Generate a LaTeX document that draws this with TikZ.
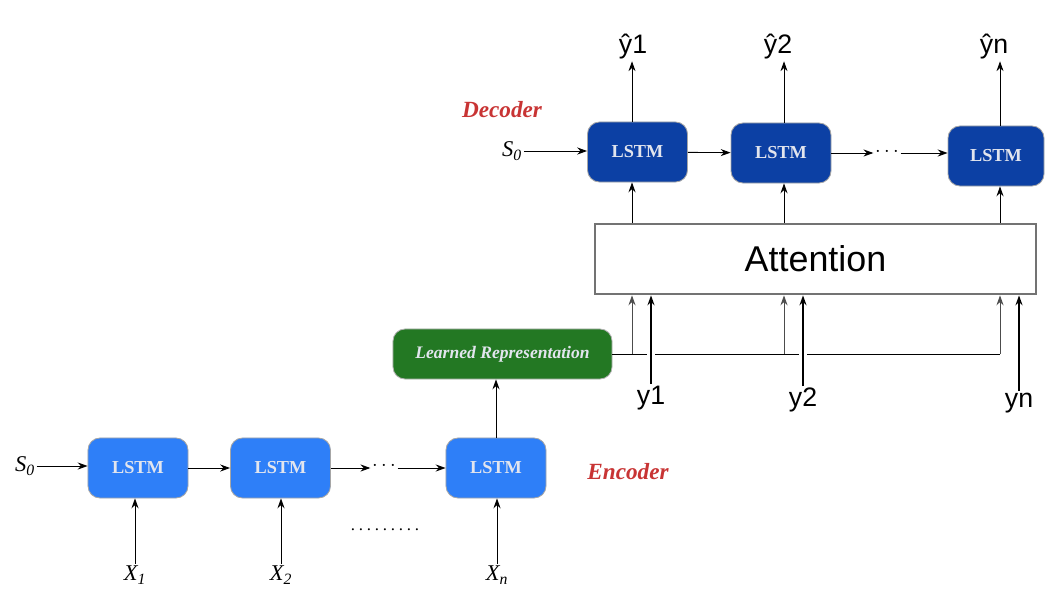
\documentclass[tikz,border=0pt]{standalone}
\usepackage{fontspec}
\setmainfont{Liberation Serif}
\setsansfont{Liberation Sans}
\usetikzlibrary{arrows.meta,positioning}
\definecolor{encblue}{RGB}{46,127,248}
\definecolor{decblue}{RGB}{12,64,164}
\definecolor{lrgreen}{RGB}{35,120,35}
\definecolor{lblred}{RGB}{200,52,52}
\definecolor{boxtxt}{RGB}{226,229,238}
\tikzset{>={Stealth[length=7pt,width=5pt]},
         every path/.style={line width=0.6pt},
         lstm/.style={draw=black!35, rounded corners=0.3cm, minimum width=2.5cm,
                      minimum height=1.5cm, text=boxtxt,
                      font=\fontsize{13}{15}\selectfont\bfseries},
         enc/.style={lstm, fill=encblue},
         dec/.style={lstm, fill=decblue},
         var/.style={inner sep=1pt, font=\fontsize{16}{18}\selectfont\itshape},
         part/.style={text=lblred, font=\fontsize{16.5}{19}\selectfont\bfseries\itshape},
         outlbl/.style={inner sep=1pt, font=\fontsize{19}{22}\selectfont\sffamily},
         skip/.style={inner sep=1pt, font=\fontsize{15}{17}\selectfont},
         thick arrow/.style={->, line width=2pt,
                             preaction={draw=white, line width=6pt, -, shorten >=8pt}}}

\begin{document}
\begin{tikzpicture}[x=0.025cm, y=-0.025cm]
	\useasboundingbox (0,0) rectangle (1056,604);

	% encoder
	\node[enc] (e1) at (138,468) {LSTM};
	\node[enc] (e2) at (280.5,468) {LSTM};
	\node[enc] (e3) at (496,468) {LSTM};
	\node[var] (s0e) at (25,466) {S\textsubscript{0}};
	\node[skip] (dotse) at (384,466) {$\cdots$};
	\node[inner sep=0pt, font=\fontsize{12}{14}\selectfont] (dotsx) at (385,530)
		{\hbox to 1.8cm{\leaders\hbox to 0.2cm{\hss.\hss}\hfill}};
	\node[var] (x1) at (135,575) {X\textsubscript{1}};
	\node[var] (x2) at (281,575) {X\textsubscript{2}};
	\node[var] (xn) at (497,575) {X\textsubscript{n}};
	\node[part] (enclbl) at (628,472) {Encoder};
	\draw[->] (s0e.east) -- (s0e.east -| e1.west);
	\draw[->] (e1) -- (e2);
	\draw[->] (e2.east) -- (dotse.west |- e2.east);
	\draw[->] (dotse.east |- e3.west) -- (e3.west);
	\foreach \v/\b in {x1/e1, x2/e2, xn/e3}
		\draw[->] (\v.north) -- (\v.north |- \b.south);

	% learned representation
	\node[fill=lrgreen, draw=black!30, rounded corners=0.3cm, minimum width=5.475cm,
	      minimum height=1.25cm, text=boxtxt,
	      font=\fontsize{12.5}{14}\selectfont\bfseries\itshape] (lr) at (502.5,354) {Learned Representation};
	\draw[->] (e3.north) -- (e3.north |- lr.south);

	% attention
	\node[draw=black!55, line width=2pt, minimum width=11.025cm, minimum height=1.75cm,
	      font=\fontsize{25.5}{28}\selectfont\sffamily] (att) at (815.5,259) {Attention};
	\coordinate (b1) at (632,354);
	\coordinate (b2) at (784,354);
	\coordinate (b3) at (1000,354);
	\draw (lr.east) -- (b3);
	\foreach \c in {b1, b2, b3}
		\draw[->, draw=black!70] (\c) -- (\c |- att.south);
	\node[outlbl] (y1) at (651,398) {y1};
	\node[outlbl] (y2) at (803,400) {y2};
	\node[outlbl] (yn) at (1019,403) {yn};
	\foreach \v in {y1, y2, yn}
		\draw[thick arrow] (\v.north) -- (\v.north |- att.south);

	% decoder
	\node[dec] (d1) at (637.5,152) {LSTM};
	\node[dec] (d2) at (781,153) {LSTM};
	\node[dec, minimum width=2.4cm] (d3) at (996,156) {LSTM};
	\node[var] (s0d) at (512,151) {S\textsubscript{0}};
	\node[skip] (dotsd) at (887,152) {$\cdots$};
	\node[part] (declbl) at (502,110) {Decoder};
	\draw[->] (s0d.east) -- (s0d.east -| d1.west);
	\draw[->] (d1) -- (d2);
	\draw[->] (d2.east) -- (dotsd.west |- d2.east);
	\draw[->] (dotsd.east |- d2.east) -- (d3.west |- d2.east);
	\foreach \c/\b in {b1/d1, b2/d2, b3/d3}
		\draw[->] (\c |- att.north) -- (\c |- \b.south);
	\node[outlbl] (yh1) at (633,47) {ŷ1};
	\node[outlbl] (yh2) at (778,47) {ŷ2};
	\node[outlbl] (yhn) at (994,47) {ŷn};
	\foreach \c/\b/\v in {b1/d1/yh1, b2/d2/yh2, b3/d3/yhn}
		\draw[->] (\c |- \b.north) -- (\c |- \v.south);
\end{tikzpicture}
\end{document}
